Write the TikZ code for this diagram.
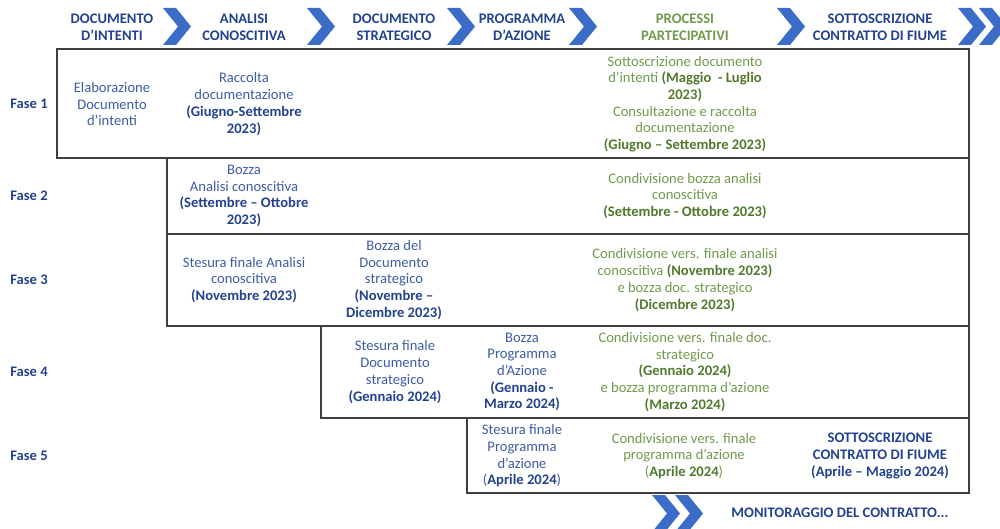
\documentclass[tikz,border=0pt]{standalone}
\usepackage{fontspec}
\setmainfont{Carlito}
\usetikzlibrary{positioning}
\definecolor{navy}{HTML}{22428F}
\definecolor{txtblue}{HTML}{3C5CA6}
\definecolor{chevblue}{HTML}{3B6CC8}
\definecolor{dkgreen}{HTML}{4F7A2C}
\definecolor{ltgreen}{HTML}{6F9A4A}
\definecolor{framegray}{HTML}{404040}
\newcommand{\bluedate}[1]{\textbf{\color{navy}#1}}
\newcommand{\greendate}[1]{\textbf{\color{dkgreen}#1}}
\tikzset{chev/.pic={\fill[chevblue] (0,0) -- (13,0) -- (28,18.5) -- (13,37) -- (0,37) -- (15,18.5) -- cycle;}}

\begin{document}
\begin{tikzpicture}[x=1pt,y=-1pt,
  head/.style={align=center,font=\fontsize{14.6}{17}\selectfont\bfseries,text=navy,inner sep=0pt},
  fase/.style={font=\fontsize{14.6}{16.7}\selectfont\bfseries,text=navy,inner sep=0pt},
  cell/.style={align=center,font=\fontsize{14.6}{16.7}\selectfont,text=txtblue,inner sep=0pt},
  part/.style={cell,text=ltgreen},
  box/.style={draw=framegray,line width=1.4pt}]
\useasboundingbox (0,0) rectangle (1000,529);
\pic at (163,8) {chev};
\pic at (307,8) {chev};
\pic at (447,8) {chev};
\pic at (569,8) {chev};
\pic at (777,8) {chev};
\pic at (958,8) {chev};
\pic at (979,8) {chev};
\node[head] (H1) at (112,27.5) {DOCUMENTO\\D’INTENTI};
\node[head] (H2) at (244,27.5) {ANALISI\\CONOSCITIVA};
\node[head] (H3) at (394,27.5) {DOCUMENTO\\STRATEGICO};
\node[head] (H4) at (522,27.5) {PROGRAMMA\\D’AZIONE};
\node[head,text=ltgreen] (H5) at (685,27.5) {PROCESSI\\PARTECIPATIVI};
\node[head] (H6) at (880,27.5) {SOTTOSCRIZIONE\\CONTRATTO DI FIUME};
\draw[box] (57,49) rectangle (969,158);
\draw[box] (167,158) rectangle (969,234);
\draw[box] (167,234) rectangle (969,326);
\draw[box] (321,326) rectangle (969,418);
\draw[box] (467,418) rectangle (969,493);
\node[fase] (F1) at (29,104) {Fase 1};
\node[fase] (F2) at (29,196) {Fase 2};
\node[fase] (F3) at (29,280) {Fase 3};
\node[fase] (F4) at (29,372) {Fase 4};
\node[fase] (F5) at (29,456) {Fase 5};
\node[cell] (A1) at (112,104) {Elaborazione\\Documento\\d’intenti};
\node[cell] (B1) at (244,104) {Raccolta\\documentazione\\\bluedate{(Giugno-Settembre}\\\bluedate{2023)}};
\node[part] (E1) at (685,104) {Sottoscrizione documento\\d’intenti \greendate{(Maggio\ \ - Luglio}\\\greendate{2023)}\\Consultazione e raccolta\\documentazione\\\greendate{(Giugno – Settembre 2023)}};
\node[cell] (B2) at (244,196) {Bozza\\Analisi conoscitiva\\\bluedate{(Settembre – Ottobre}\\\bluedate{2023)}};
\node[part] (E2) at (685,196) {Condivisione bozza analisi\\conoscitiva\\\greendate{(Settembre - Ottobre 2023)}};
\node[cell] (B3) at (244,280) {Stesura finale Analisi\\conoscitiva\\\bluedate{(Novembre 2023)}};
\node[cell] (C3) at (394,280) {Bozza del\\Documento\\strategico\\\bluedate{(Novembre –}\\\bluedate{Dicembre 2023)}};
\node[part] (E3) at (685,280) {Condivisione vers. finale analisi\\conoscitiva \greendate{(Novembre 2023)}\\e bozza doc. strategico\\\greendate{(Dicembre 2023)}};
\node[cell] (C4) at (395,372) {Stesura finale\\Documento\\strategico\\\bluedate{(Gennaio 2024)}};
\node[cell] (D4) at (522,372) {Bozza\\Programma\\d’Azione\\\bluedate{(Gennaio -}\\\bluedate{Marzo 2024)}};
\node[part] (E4) at (685,372) {Condivisione vers. finale doc.\\strategico\\\greendate{(Gennaio 2024)}\\e bozza programma d’azione\\\greendate{(Marzo 2024)}};
\node[cell] (D5) at (522,456) {Stesura finale\\Programma\\d’azione\\(\bluedate{Aprile 2024})};
\node[part] (E5) at (684,456) {Condivisione vers. finale\\programma d’azione\\(\greendate{Aprile 2024})};
\node[cell,text=navy] (G5) at (880,456) {\textbf{SOTTOSCRIZIONE}\\\textbf{CONTRATTO DI FIUME}\\\textbf{(Aprile – Maggio 2024)}};
\pic at (652,495) {chev};
\pic at (675,495) {chev};
\node[head] (M) at (840,513) {MONITORAGGIO DEL CONTRATTO...};
\end{tikzpicture}
\end{document}
